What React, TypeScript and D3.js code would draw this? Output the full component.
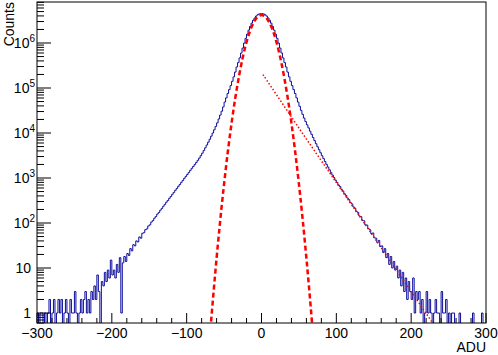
import { useEffect, useRef } from "react";
import * as d3 from "d3";

// histogram: 2 ADU bins, counts
const binWidth = 2;
const leftTailStart = -300;
const leftTailCounts = [
  1, 0, 1, 1, 0, 1, 0, 1, 2, 0,
  1, 2, 0, 1, 2, 1, 2, 0, 1, 2,
  1, 0, 2, 1, 1, 3, 1, 0, 1, 2,
  1, 2, 3, 1, 2, 1, 3, 2, 4, 2,
  7, 3, 0, 5, 4, 8, 5, 9, 6, 15,
];
const leftSlopeCounts = [
  7, 9, 6, 12, 8, 17, 1, 13, 18, 14,
  21, 19, 27, 24, 33, 31, 40, 38, 49, 46,
  59, 61, 71, 74, 86, 91, 105, 113, 128, 139,
  158, 171, 193, 211, 236, 259, 290, 317, 355, 389,
  435, 478, 534, 587, 654, 719, 803, 882, 985, 1085,
];
const coreCounts = [
  1200, 1330, 1480, 1640, 1810, 2000, 2220, 2470, 2770, 3130,
  3560, 4070, 4680, 5400, 6250, 7280, 8510, 10000, 11800, 14000,
  16800, 20500, 25000, 30500, 38000, 48700, 60400, 75400, 92000, 113000,
  141000, 177000, 226000, 293000, 367000, 467000, 599000, 771000, 994000, 1270000,
  1570000, 1930000, 2330000, 2760000, 3200000, 3600000, 3960000, 4240000, 4420000, 4480000,
  4480000, 4420000, 4240000, 3960000, 3600000, 3200000, 2760000, 2330000, 1930000, 1570000,
  1270000, 994000, 771000, 599000, 467000, 367000, 293000, 226000, 177000, 141000,
  113000, 92000, 75400, 60400, 48700, 39300, 31800, 26000, 21500, 18000,
  15200, 13000, 11000, 9350, 7940, 6780, 5790, 4950, 4250, 3640,
  3130, 2700, 2330, 2010, 1750, 1520, 1320, 1160, 1020, 895,
];
const rightSlopeCounts = [
  801, 702, 648, 561, 515, 447, 412, 358, 331, 285,
  266, 228, 214, 181, 172, 143, 139, 114, 112, 91,
  90, 75, 71, 58, 60, 47, 46, 37, 41, 30,
  31, 22, 27, 17, 21, 12, 18, 10, 14, 9,
  11, 6, 9, 4, 8, 3, 6, 2, 5, 3,
];
const rightTailCounts = [
  2, 6, 1, 3, 2, 3, 1, 2, 0, 1,
  3, 1, 2, 1, 0, 1, 2, 1, 1, 0,
  3, 1, 1, 2, 0, 1, 0, 1, 1, 0,
  0, 0, 1, 0, 0, 0, 0, 0, 0, 0,
  0, 1, 0, 0, 0, 0, 0, 1, 0, 0,
];

// gaussian fit (red dashed)
const gaussAdu = [-70, -65, -60, -55, -50, -45, -40, -35, -30, -25, -20, -15, -10, -5, 0,
  5, 10, 15, 20, 25, 30, 35, 40, 45, 50, 55, 60, 65, 70];
const gaussCounts = [0.19, 1.92, 16.6, 121, 741, 3830, 16600, 60700, 186000, 482000,
  1050000, 1920000, 2950000, 3830000, 4170000, 3830000, 2950000, 1920000, 1050000,
  482000, 186000, 60700, 16600, 3830, 741, 121, 16.6, 1.92, 0.19];

// exponential tail fit (red dotted)
const expAdu = [2, 50, 100, 150, 200, 232];
const expCounts = [199000, 12900, 794, 49, 3.0, 0.5];

const xTicks = [-300, -200, -100, 0, 100, 200, 300];
const yPowers = [0, 1, 2, 3, 4, 5, 6];
const xDomain = [-300, 300];
const yDomain = [0.6, 8.15e6];

const FONT = "'Liberation Sans', Arial, Helvetica, sans-serif";

export default function App() {
  const ref = useRef<SVGSVGElement>(null);

  useEffect(() => {
    const svg = d3.select(ref.current);
    svg.selectAll("*").remove();

    const width = 498;
    const height = 355;
    const left = 37, right = 486, top = 2, bottom = 323;

    const x = d3.scaleLinear().domain(xDomain).range([left, right]);
    const y = d3.scaleLog().domain(yDomain).range([bottom, top]);

    svg.append("rect").attr("width", width).attr("height", height).attr("fill", "white");

    svg.append("defs").append("clipPath").attr("id", "plot-clip")
      .append("rect").attr("x", left).attr("y", top)
      .attr("width", right - left).attr("height", bottom - top);

    const plot = svg.append("g").attr("clip-path", "url(#plot-clip)");

    // --- histogram ---
    const counts = [
      ...leftTailCounts, ...leftSlopeCounts, ...coreCounts,
      ...rightSlopeCounts, ...rightTailCounts,
    ];
    const pts: [number, number][] = counts.map((c, i) => [leftTailStart + i * binWidth, c]);
    pts.push([xDomain[1], counts[counts.length - 1]]);
    const floor = yDomain[0] * 0.8;

    const histLine = d3.line<[number, number]>()
      .x((d) => x(d[0]))
      .y((d) => y(Math.max(d[1], floor)))
      .curve(d3.curveStepAfter);

    plot.append("path")
      .attr("d", histLine(pts))
      .attr("fill", "none")
      .attr("stroke", "#0c0c9c")
      .attr("stroke-width", 1);

    // --- fits ---
    const fitLine = d3.line<[number, number]>()
      .x((d) => x(d[0]))
      .y((d) => y(Math.max(d[1], 1e-3)))
      .curve(d3.curveCatmullRom);

    plot.append("path")
      .attr("d", fitLine(gaussAdu.map((a, i) => [a, gaussCounts[i]])))
      .attr("fill", "none")
      .attr("stroke", "#ff0000")
      .attr("stroke-width", 2.5)
      .attr("stroke-dasharray", "5,3");

    plot.append("path")
      .attr("d", fitLine(expAdu.map((a, i) => [a, expCounts[i]])))
      .attr("fill", "none")
      .attr("stroke", "#ff0000")
      .attr("stroke-width", 1.5)
      .attr("stroke-dasharray", "1.5,2");

    // --- frame ---
    svg.append("rect")
      .attr("x", left).attr("y", top)
      .attr("width", right - left).attr("height", bottom - top)
      .attr("fill", "none").attr("stroke", "#000").attr("stroke-width", 1);

    // --- x axis ticks ---
    const axisG = svg.append("g").attr("stroke", "#000").attr("stroke-width", 1);
    for (let v = xDomain[0]; v <= xDomain[1]; v += 20) {
      const major = v % 100 === 0;
      const len = major ? 10 : 5;
      axisG.append("line")
        .attr("x1", x(v)).attr("x2", x(v))
        .attr("y1", bottom).attr("y2", bottom - len);
    }

    svg.append("g").selectAll("text").data(xTicks).join("text")
      .attr("x", (d) => x(d))
      .attr("y", 338)
      .attr("text-anchor", "middle")
      .attr("font-family", FONT)
      .attr("font-size", 14)
      .text((d) => (d < 0 ? "\u2212" + Math.abs(d) : String(d)));

    // --- y axis ticks ---
    for (let p = -1; p <= 6; p++) {
      for (let m = 1; m <= 9; m++) {
        const v = m * Math.pow(10, p);
        if (v < yDomain[0] || v > yDomain[1]) continue;
        const len = m === 1 ? 14 : 7;
        axisG.append("line")
          .attr("x1", left).attr("x2", left + len)
          .attr("y1", y(v)).attr("y2", y(v));
      }
    }

    const yLabels = svg.append("g")
      .attr("font-family", FONT)
      .attr("font-size", 14);
    yPowers.forEach((p) => {
      const ty = y(Math.pow(10, p)) + 5;
      if (p === 0 || p === 1) {
        yLabels.append("text")
          .attr("x", 31).attr("y", ty)
          .attr("text-anchor", "end")
          .text(p === 0 ? "1" : "10");
      } else {
        const t = yLabels.append("text")
          .attr("x", 35).attr("y", ty)
          .attr("text-anchor", "end");
        t.append("tspan").text("10");
        t.append("tspan").attr("dy", -6).attr("font-size", 10).text(String(p));
      }
    });

    // --- axis titles ---
    svg.append("text")
      .attr("x", right).attr("y", 352)
      .attr("text-anchor", "end")
      .attr("font-family", FONT)
      .attr("font-size", 14)
      .text("ADU");

    svg.append("text")
      .attr("transform", `translate(14,${top}) rotate(-90)`)
      .attr("text-anchor", "end")
      .attr("font-family", FONT)
      .attr("font-size", 14)
      .text("Counts");
  }, []);

  return (
    <svg
      ref={ref}
      width={498}
      height={355}
      style={{ position: "absolute", left: 0, top: 0 }}
    ></svg>
  );
}
